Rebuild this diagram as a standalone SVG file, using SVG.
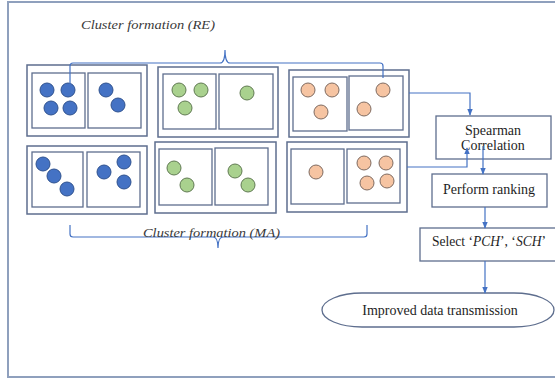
<svg xmlns="http://www.w3.org/2000/svg" width="555" height="379" viewBox="0 0 555 379">
<defs>
<style>
.frame{fill:#fff;stroke:#8FA0BD;stroke-width:2}
.box{fill:#fff;stroke:#5E6E8E;stroke-width:1.5}
.pbox{fill:#fff;stroke:#5E6E8E;stroke-width:1.3}
.b{fill:#4472C4;stroke:#2F528F;stroke-width:1}
.g{fill:#A9D18E;stroke:#607A52;stroke-width:1}
.o{fill:#F6C4A2;stroke:#7E6A60;stroke-width:1}
.con{fill:none;stroke:#4472C4;stroke-width:1.2}
text{font-family:'Liberation Serif',serif}
.t{font-size:14px;fill:#1E1E1E}
.m{font-style:italic;font-size:13px;fill:#3A3A3A}
</style>
<marker id="ar" viewBox="0 0 10 10" refX="9" refY="5" markerWidth="6" markerHeight="6" orient="auto-start-reverse"><path d="M0,1 L10,5 L0,9 z" fill="#4472C4"/></marker>
</defs>
<rect x="0" y="0" width="555" height="379" fill="#fff"/>
<rect class="frame" x="8" y="2" width="560" height="375"/>

<text class="m" x="81" y="29" textLength="134" lengthAdjust="spacingAndGlyphs">Cluster formation (RE)</text>

<g id="cluster1">
<rect class="box" x="27" y="65" width="120" height="71"/>
<rect class="pbox" x="32" y="73" width="53" height="55"/>
<rect class="pbox" x="88" y="73" width="53" height="55"/>
<circle class="b" cx="47" cy="90" r="7"/><circle class="b" cx="68" cy="90" r="7"/>
<circle class="b" cx="51" cy="108" r="7"/><circle class="b" cx="70" cy="108" r="7"/>
<circle class="b" cx="106" cy="90" r="7"/><circle class="b" cx="118" cy="105" r="7"/>
</g>
<g id="cluster2">
<rect class="box" x="158" y="67" width="120" height="70"/>
<rect class="pbox" x="163" y="74" width="53" height="55"/>
<rect class="pbox" x="219" y="74" width="54" height="55"/>
<circle class="g" cx="179" cy="90" r="7"/><circle class="g" cx="201" cy="90" r="7"/>
<circle class="g" cx="185" cy="108" r="7"/><circle class="g" cx="247" cy="93" r="7"/>
</g>
<g id="cluster3">
<rect class="box" x="289" y="70" width="120" height="67"/>
<rect class="pbox" x="293" y="77" width="54" height="54"/>
<rect class="pbox" x="349" y="76" width="54" height="54"/>
<circle class="o" cx="308" cy="90" r="7"/><circle class="o" cx="332" cy="90" r="7"/>
<circle class="o" cx="321" cy="112" r="7"/><circle class="o" cx="383" cy="90" r="7"/>
<circle class="o" cx="364" cy="109" r="7"/>
</g>
<g id="cluster4">
<rect class="box" x="27" y="146" width="120" height="68"/>
<rect class="pbox" x="32" y="152" width="51" height="55"/>
<rect class="pbox" x="87" y="152" width="53" height="55"/>
<circle class="b" cx="43" cy="164" r="7"/><circle class="b" cx="54" cy="176" r="7"/>
<circle class="b" cx="67" cy="189" r="7"/><circle class="b" cx="104" cy="172" r="7"/>
<circle class="b" cx="124" cy="162" r="7"/><circle class="b" cx="124" cy="182" r="7"/>
</g>
<g id="cluster5">
<rect class="box" x="155" y="142" width="121" height="71"/>
<rect class="pbox" x="159" y="149" width="53" height="56"/>
<rect class="pbox" x="215" y="148" width="53" height="57"/>
<circle class="g" cx="174" cy="168" r="7"/><circle class="g" cx="187" cy="185" r="7"/>
<circle class="g" cx="235" cy="171" r="7"/><circle class="g" cx="248" cy="185" r="7"/>
</g>
<g id="cluster6">
<rect class="box" x="287" y="142" width="120" height="70"/>
<rect class="pbox" x="291" y="149" width="53" height="55"/>
<rect class="pbox" x="347" y="149" width="53" height="54"/>
<circle class="o" cx="316" cy="172" r="7"/><circle class="o" cx="364" cy="163" r="7"/>
<circle class="o" cx="386" cy="163" r="7"/><circle class="o" cx="367" cy="183" r="7"/>
<circle class="o" cx="387" cy="181" r="7"/>
</g>

<g id="spearman">
<rect class="pbox" x="436" y="116" width="115" height="43"/>
<text class="t" x="493" y="135" text-anchor="middle">Spearman</text>
<text class="t" x="493" y="150" text-anchor="middle">Correlation</text>
</g>
<g id="ranking">
<rect class="pbox" x="432" y="174" width="115" height="33"/>
<text class="t" x="489" y="194" text-anchor="middle">Perform ranking</text>
</g>
<g id="select">
<rect class="pbox" x="420" y="228" width="145" height="33"/>
<text class="t" x="432" y="246" textLength="114" lengthAdjust="spacingAndGlyphs">Select ‘<tspan font-style="italic">PCH</tspan>’, ‘<tspan font-style="italic">SCH</tspan>’</text>
</g>
<g id="improved">
<rect class="pbox" x="322" y="293" width="232" height="34" rx="40" ry="17"/>
<text class="t" x="440" y="315" text-anchor="middle">Improved data transmission</text>
</g>

<g id="braces">
<path class="con" d="M70,85 V66 Q70,63 73,63 H220 Q225,63 225,50 Q225,63 230,63 H380 Q383,63 383,66 V78"/>
<path class="con" d="M70,225 V234 Q70,237 73,237 H213 Q218,237 218,248 Q218,237 223,237 H364 Q367,237 367,234 V225"/>
<text class="m" x="143" y="237" textLength="137" lengthAdjust="spacingAndGlyphs">Cluster formation (MA)</text>
</g>

<g id="connectors">
<path class="con" d="M409,93 H470 V115" marker-end="url(#ar)"/>
<path class="con" d="M407,167 H467 V148" marker-end="url(#ar)"/>
<path class="con" d="M483,146 V174" marker-end="url(#ar)"/>
<path class="con" d="M485,207 V228" marker-end="url(#ar)"/>
<path class="con" d="M485,261 V293" marker-end="url(#ar)"/>
</g>
</svg>
